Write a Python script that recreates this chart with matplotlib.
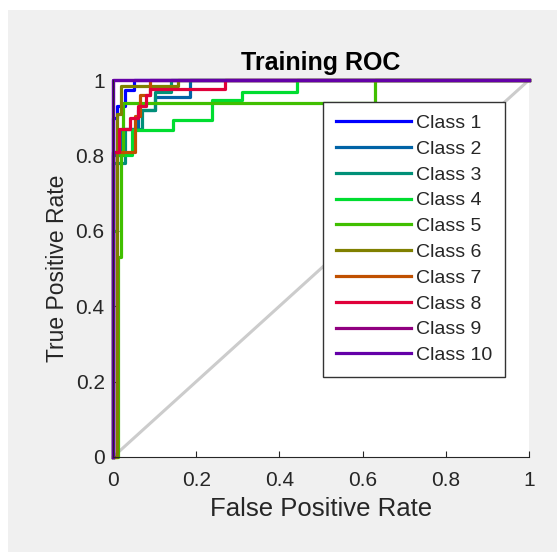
import matplotlib
matplotlib.use('Agg')
import matplotlib.pyplot as plt
from matplotlib.patches import Rectangle

plt.rcParams['font.family'] = ['Liberation Sans', 'DejaVu Sans']

# ROC curves (false positive rate, true positive rate)
fpr1 = [0, 0, 0.01, 0.01, 0.03, 0.03, 0.05, 0.05, 1]
tpr1 = [0, 0.9, 0.9, 0.93, 0.93, 0.973, 0.973, 1, 1]

fpr2 = [0, 0, 0.02, 0.02, 0.06, 0.06, 0.1, 0.1, 0.185, 0.185, 1]
tpr2 = [0, 0.8, 0.8, 0.87, 0.87, 0.92, 0.92, 0.955, 0.955, 1, 1]

fpr3 = [0, 0, 0.03, 0.03, 0.07, 0.07, 0.1, 0.1, 0.14, 0.14, 1]
tpr3 = [0, 0.78, 0.78, 0.87, 0.87, 0.92, 0.92, 0.968, 0.968, 1, 1]

fpr4 = [0, 0, 0.01, 0.01, 0.045, 0.045, 0.145, 0.145, 0.238, 0.238, 0.31, 0.31, 0.442, 0.442, 1]
tpr4 = [0, 0.6, 0.6, 0.8, 0.8, 0.867, 0.867, 0.893, 0.893, 0.947, 0.947, 0.968, 0.968, 1, 1]

fpr5 = [0, 0.012, 0.012, 0.02, 0.02, 0.025, 0.025, 0.63, 0.63, 1]
tpr5 = [0, 0, 0.53, 0.53, 0.8, 0.8, 0.94, 0.94, 1, 1]

fpr6 = [0, 0.01, 0.01, 0.02, 0.02, 0.156, 0.156, 1]
tpr6 = [0, 0, 0.91, 0.91, 0.985, 0.985, 1, 1]

fpr7 = [0, 0, 0.013, 0.013, 0.053, 0.053, 0.065, 0.065, 0.088, 0.088, 1]
tpr7 = [0, 0.81, 0.81, 0.81, 0.81, 0.905, 0.905, 0.96, 0.96, 1, 1]

fpr8 = [0, 0, 0.015, 0.015, 0.04, 0.04, 0.06, 0.06, 0.08, 0.08, 0.09, 0.09, 0.27, 0.27, 1]
tpr8 = [0, 0.81, 0.81, 0.87, 0.87, 0.9, 0.9, 0.93, 0.93, 0.96, 0.96, 0.975, 0.975, 1, 1]

fpr9 = [0, 0, 1]
tpr9 = [0, 1, 1]

fpr10 = [0, 0, 1]
tpr10 = [0, 1, 1]

labels = ['Class 1', 'Class 2', 'Class 3', 'Class 4', 'Class 5',
          'Class 6', 'Class 7', 'Class 8', 'Class 9', 'Class 10']
colors = ['#0000ff', '#0063a6', '#009078', '#00dd30', '#40bf00',
          '#808000', '#c05000', '#e0003a', '#900080', '#6400a8']

curves = [(fpr1, tpr1), (fpr2, tpr2), (fpr3, tpr3), (fpr4, tpr4), (fpr5, tpr5),
          (fpr6, tpr6), (fpr7, tpr7), (fpr8, tpr8), (fpr9, tpr9), (fpr10, tpr10)]

fig = plt.figure(figsize=(5.57, 5.52), dpi=100, facecolor='white')
fig.patches.append(Rectangle((8 / 557, 0), 1, 1 - 10 / 552, transform=fig.transFigure,
                             facecolor='#f0f0f0', edgecolor='none', zorder=-10))

ax = fig.add_axes([113 / 557, 95 / 552, 416 / 557, 377 / 552])
ax.set_facecolor('white')

# chance line
ax.plot([0, 1], [0, 1], color='#cccccc', linewidth=2.2, zorder=1)

for (x, y), c, lab in zip(curves, colors, labels):
    ax.plot(x, y, color=c, linewidth=2.3, label=lab, clip_on=False, zorder=2)

ax.set_xlim(0, 1)
ax.set_ylim(0, 1)
ax.set_xticks([0, 0.2, 0.4, 0.6, 0.8, 1])
ax.set_yticks([0, 0.2, 0.4, 0.6, 0.8, 1])
ax.set_xticklabels(['0', '0.2', '0.4', '0.6', '0.8', '1'])
ax.set_yticklabels(['0', '0.2', '0.4', '0.6', '0.8', '1'])
ax.tick_params(direction='in', length=4, labelsize=15, colors='#262626')
ax.tick_params(axis='x', pad=10)
ax.tick_params(axis='y', pad=6)
ax.spines['top'].set_visible(False)
ax.spines['right'].set_visible(False)
for s in ['left', 'bottom']:
    ax.spines[s].set_color('#262626')

ax.set_xlabel('False Positive Rate', fontsize=18.5, color='#262626', labelpad=5)
ax.set_ylabel('True Positive Rate', fontsize=16.5, color='#262626', labelpad=5)
ax.set_title('Training ROC', fontsize=18, fontweight='bold', color='black', pad=7)

leg = ax.legend(loc='upper left', bbox_to_anchor=(0.505, 0.942), fontsize=14,
                handlelength=3.85, handletextpad=0.3, labelspacing=0.42,
                borderpad=0.65, borderaxespad=0, fancybox=False, framealpha=1,
                edgecolor='#333333')
leg.get_frame().set_linewidth(1.0)
for t in leg.get_texts():
    t.set_color('#262626')

fig.savefig('out.png', dpi=100)
